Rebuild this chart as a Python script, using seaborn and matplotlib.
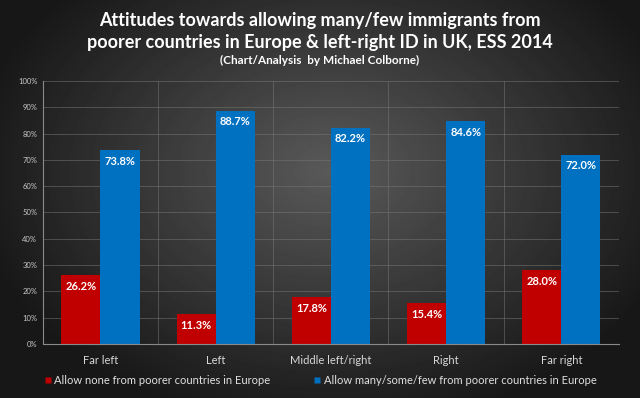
import numpy as np
import pandas as pd
import seaborn as sns
import matplotlib.pyplot as plt
from matplotlib.lines import Line2D

categories = ["Far left", "Left", "Middle left/right", "Right", "Far right"]
allow_none = [26.2, 11.3, 17.8, 15.4, 28.0]
allow_some = [73.8, 88.7, 82.2, 84.6, 72.0]
series_names = [
    "Allow none from poorer countries in Europe",
    "Allow many/some/few from poorer countries in Europe",
]
colors = ["#C00000", "#0070C0"]

df = pd.DataFrame({
    "category": categories * 2,
    "value": allow_none + allow_some,
    "series": [series_names[0]] * 5 + [series_names[1]] * 5,
})

sns.set_style("dark")
plt.rcParams["font.family"] = ["Lato", "DejaVu Sans"]

fig = plt.figure(figsize=(6.4, 3.98), dpi=100)

# radial grey background
bg = fig.add_axes([0, 0, 1, 1], zorder=-10)
yy, xx = np.mgrid[0:398, 0:640]
d = np.sqrt(((xx - 330) / 420.0) ** 2 + ((yy - 170) / 300.0) ** 2)
shade = np.clip(0.35 - 0.30 * d, 0.09, 0.35)
bg.imshow(shade, cmap="gray", vmin=0, vmax=1, aspect="auto", interpolation="bilinear")
bg.axis("off")

ax = fig.add_axes([0.067, 0.1357, 0.9, 0.661])
ax.patch.set_alpha(0)

sns.barplot(
    data=df, x="category", y="value", hue="series", palette=colors,
    width=0.68, saturation=1, ax=ax, legend=False, edgecolor="none",
)

ax.set_ylim(0, 100)
ax.set_xlim(-0.5, 4.5)
ax.set_yticks(np.arange(0, 101, 10))
ax.set_yticklabels([f"{v}%" for v in range(0, 101, 10)], fontsize=5.5, color="#c8c8c8")
ax.set_xticks(range(5))
ax.set_xticklabels(categories, fontsize=8, color="#d8d8d8")
ax.set_xticks(np.arange(-0.5, 5, 1), minor=True)
ax.grid(axis="y", color="#777777", linewidth=0.6, alpha=0.6)
ax.grid(axis="x", which="minor", color="#777777", linewidth=0.6, alpha=0.6)
ax.grid(axis="x", which="major", visible=False)
ax.tick_params(axis="both", which="both", length=0, pad=4)
ax.tick_params(axis="x", pad=8)
ax.set_xlabel("")
ax.set_ylabel("")
for side in ["top", "right"]:
    ax.spines[side].set_visible(False)
ax.spines["left"].set_color("#8a8a8a")
ax.spines["bottom"].set_color("#8a8a8a")
ax.spines["left"].set_linewidth(0.8)
ax.spines["bottom"].set_linewidth(0.8)

for cont in ax.containers:
    ax.bar_label(cont, labels=[f"{b.get_height():.1f}%" for b in cont],
                 padding=-12, color="white", fontsize=8, fontweight="bold")

fig.text(0.5, 0.948, "Attitudes towards allowing many/few immigrants from",
         ha="center", va="center", color="white", fontsize=13, fontweight="bold")
fig.text(0.5, 0.893, "poorer countries in Europe & left-right ID in UK, ESS 2014",
         ha="center", va="center", color="white", fontsize=13, fontweight="bold")
fig.text(0.5, 0.848, "(Chart/Analysis  by Michael Colborne)",
         ha="center", va="center", color="white", fontsize=8.5, fontweight="bold")

handles = [Line2D([0], [0], marker="s", linestyle="none", markersize=5,
                  markerfacecolor=c, markeredgecolor="none") for c in colors]
fig.legend(handles, series_names, loc="center", bbox_to_anchor=(0.5, 0.045),
           ncol=2, frameon=False, fontsize=8, labelcolor="#e0e0e0",
           handletextpad=0.2, columnspacing=3.8, handlelength=0.8)

fig.savefig("out.png", dpi=100)
